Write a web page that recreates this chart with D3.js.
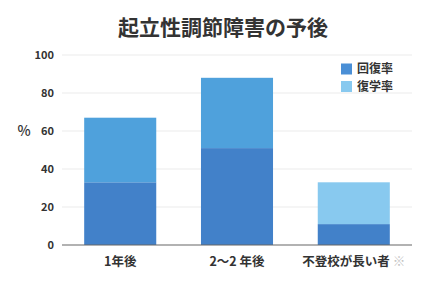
<!DOCTYPE html>
<html>
<head>
<meta charset="utf-8">
<script src="https://cdn.jsdelivr.net/npm/d3@7"></script>
<style>
body { margin: 0; background: #fff; }
text { font-family: "Noto Sans CJK JP", "Noto Sans", sans-serif; fill: #333; }
</style>
</head>
<body>
<script>
var categories = ["1年後", "2〜2 年後", "不登校が長い者"];
var recovery = [33, 51, 11];      // 回復率
var returnSchool = [34, 37, 22];  // 復学率 (stacked on top)
var yTicks = [0, 20, 40, 60, 80, 100];
var seriesNames = ["回復率", "復学率"];

var width = 441, height = 294;
var margin = {top: 55, right: 29, bottom: 49, left: 62};

var svg = d3.select("body").append("svg")
    .attr("width", width)
    .attr("height", height);

var x = d3.scaleBand()
    .domain(categories)
    .range([margin.left, width - margin.right])
    .paddingInner(0.383)
    .paddingOuter(0.19);

var y = d3.scaleLinear()
    .domain([0, 100])
    .range([height - margin.bottom, margin.top]);

// title
svg.append("text")
    .attr("x", 223)
    .attr("y", 35)
    .attr("text-anchor", "middle")
    .style("font-size", "21px")
    .style("font-weight", "bold")
    .text("起立性調節障害の予後");

// grid
svg.append("g").selectAll("line")
    .data(yTicks.slice(1))
    .enter().append("line")
    .attr("x1", margin.left)
    .attr("x2", width - margin.right)
    .attr("y1", function(d) { return y(d); })
    .attr("y2", function(d) { return y(d); })
    .attr("stroke", "#ebebeb")
    .attr("stroke-width", 1);

// y labels
svg.append("g").selectAll("text")
    .data(yTicks)
    .enter().append("text")
    .attr("x", 54)
    .attr("y", function(d) { return y(d); })
    .attr("dy", "0.35em")
    .attr("text-anchor", "end")
    .style("font-size", "11px")
    .style("font-weight", "bold")
    .text(function(d) { return d; });

svg.append("text")
    .attr("x", 24)
    .attr("y", 131)
    .attr("text-anchor", "middle")
    .attr("dy", "0.35em")
    .style("font-size", "14px")
    .style("font-weight", "500")
    .text("%");

var topColors = ["#4fa1dc", "#4fa1dc", "#88c9ef"];

// bars
var bars = svg.append("g");
bars.selectAll("rect.rec")
    .data(categories)
    .enter().append("rect")
    .attr("class", "rec")
    .attr("x", function(d) { return x(d); })
    .attr("width", x.bandwidth())
    .attr("y", function(d, i) { return y(recovery[i]); })
    .attr("height", function(d, i) { return y(0) - y(recovery[i]); })
    .attr("fill", "#4281c9");

bars.selectAll("rect.ret")
    .data(categories)
    .enter().append("rect")
    .attr("class", "ret")
    .attr("x", function(d) { return x(d); })
    .attr("width", x.bandwidth())
    .attr("y", function(d, i) { return y(recovery[i] + returnSchool[i]); })
    .attr("height", function(d, i) { return y(recovery[i]) - y(recovery[i] + returnSchool[i]); })
    .attr("fill", function(d, i) { return topColors[i]; });

// x axis line
svg.append("line")
    .attr("x1", margin.left)
    .attr("x2", width - margin.right)
    .attr("y1", y(0))
    .attr("y2", y(0))
    .attr("stroke", "#666")
    .attr("stroke-width", 1.2);

// x labels
var xl = svg.append("g").selectAll("text")
    .data(categories)
    .enter().append("text")
    .attr("x", function(d) { return x(d) + x.bandwidth() / 2; })
    .attr("y", 266)
    .attr("text-anchor", "middle")
    .style("font-size", "12.5px")
    .style("font-weight", "bold")
    .text(function(d) { return d; });
xl.filter(function(d, i) { return i === 2; })
    .append("tspan")
    .attr("dx", 3)
    .style("fill", "#c4c4c4")
    .style("font-weight", "normal")
    .text("※");

// legend
var legend = svg.append("g").selectAll("g")
    .data(seriesNames)
    .enter().append("g")
    .attr("transform", function(d, i) { return "translate(341," + (63.5 + i * 17.5) + ")"; });
legend.append("rect")
    .attr("width", 11)
    .attr("height", 11)
    .attr("fill", function(d, i) { return i === 0 ? "#4a8fd6" : "#88c9ef"; });
legend.append("text")
    .attr("x", 16)
    .attr("y", 5.5)
    .attr("dy", "0.35em")
    .style("font-size", "12px")
    .style("font-weight", "bold")
    .text(function(d) { return d; });
</script>
</body>
</html>
